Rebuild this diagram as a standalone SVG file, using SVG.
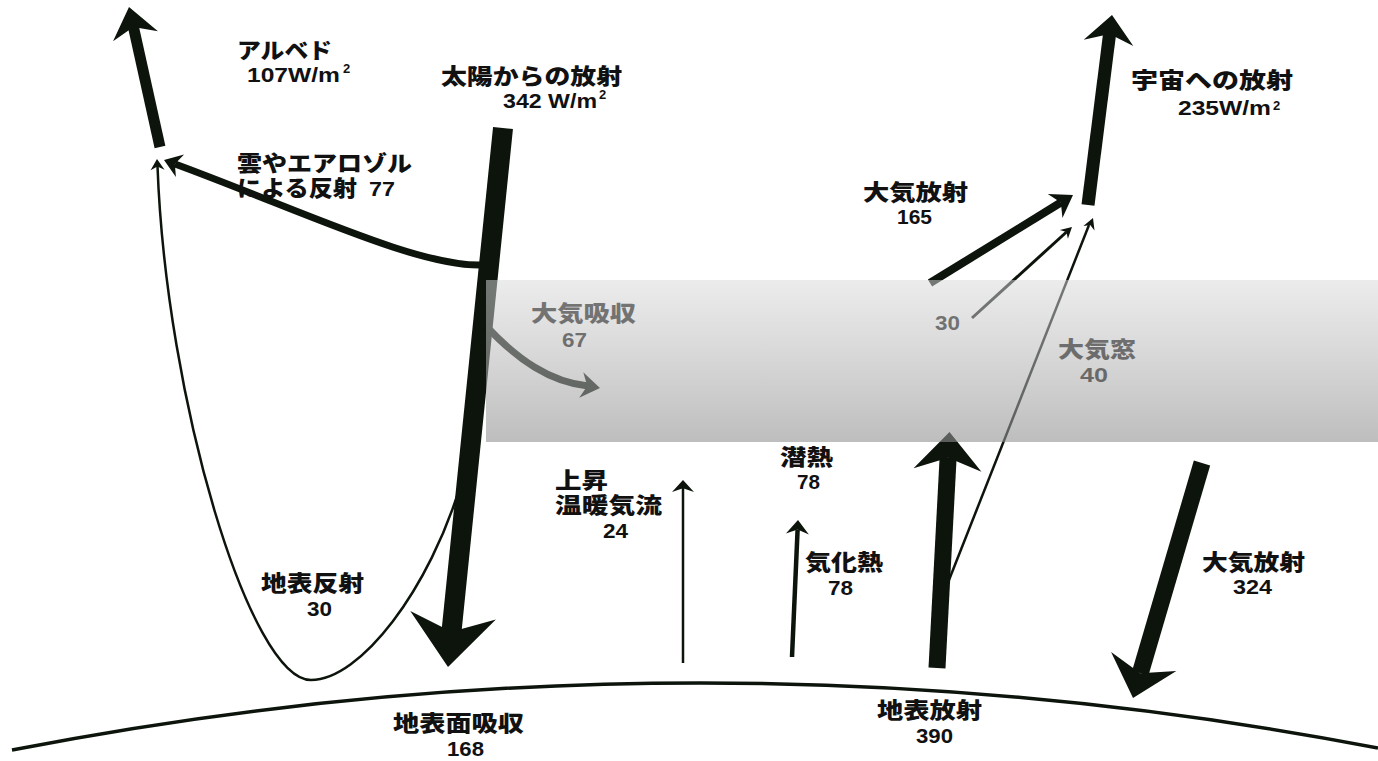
<svg xmlns="http://www.w3.org/2000/svg" width="1378" height="761" viewBox="0 0 1378 761">
<defs>
<style>
text{font-family:"Liberation Sans","Noto Sans CJK JP",sans-serif;font-weight:bold;fill:#111}
.j{font-size:22px;font-weight:900}
.n{font-size:21px}
.s{font-size:13px}
.sh{fill:none;stroke:#0c140c;stroke-linecap:butt}
.hd{fill:#0c140c}
</style>
<path id="hd" d="M0,0 L-1,-1 L-0.68,0 L-1,1 Z"/>
<linearGradient id="band" x1="0" y1="0" x2="0" y2="1">
<stop offset="0" stop-color="#d9d9d9" stop-opacity="0.51"/>
<stop offset="1" stop-color="#909090" stop-opacity="0.59"/>
</linearGradient>
</defs>
<rect width="1378" height="761" fill="#fff"/>

<g id="connectors">
<!-- sun incoming -->
<line class="sh" x1="503" y1="128" x2="451.4" y2="632.5" stroke-width="20"/>
<use href="#hd" class="hd" transform="translate(448,667) rotate(95.6) scale(52,43)"/>
<!-- albedo -->
<line class="sh" x1="160" y1="147" x2="133.4" y2="26.9" stroke-width="11"/>
<use href="#hd" class="hd" transform="translate(129,7) rotate(-102.5) scale(30,23)"/>
<!-- cloud reflection 77 -->
<path class="sh" d="M484,265 C420,268 300,210 175,164" stroke-width="7"/>
<use href="#hd" class="hd" transform="translate(164,160) rotate(-160.1) scale(17,12)"/>
<!-- surface reflection 30 -->
<path class="sh" d="M462,480 C430,590 360,680 311,680 C250,680 166,400 157.5,166" stroke-width="2.5"/>
<use href="#hd" class="hd" transform="translate(157,159) rotate(-92.9) scale(11,7)"/>
<!-- atmospheric absorption 67 -->
<path class="sh" d="M486,326 C518,360 550,382 588,386" stroke-width="7"/>
<use href="#hd" class="hd" transform="translate(600,388) rotate(9) scale(19,13)"/>
<!-- outgoing to space 235 -->
<line class="sh" x1="1088" y1="205" x2="1109.6" y2="33.8" stroke-width="13"/>
<use href="#hd" class="hd" transform="translate(1112,15) rotate(-82.8) scale(28,25)"/>
<!-- atmospheric emission 165 -->
<line class="sh" x1="930" y1="283" x2="1060.8" y2="202.5" stroke-width="8"/>
<use href="#hd" class="hd" transform="translate(1073,195) rotate(-31.6) scale(21,14)"/>
<!-- 30 -->
<line class="sh" x1="972" y1="318" x2="1066.5" y2="232" stroke-width="3"/>
<use href="#hd" class="hd" transform="translate(1072,227) rotate(-42.3) scale(11,6)"/>
<!-- atmospheric window 40 -->
<line class="sh" x1="949" y1="580" x2="1089" y2="225" stroke-width="2.5"/>
<use href="#hd" class="hd" transform="translate(1093,218) rotate(-68.3) scale(11,6)"/>
<!-- surface radiation 390 -->
<line class="sh" x1="937" y1="668" x2="948.1" y2="457.8" stroke-width="17"/>
<use href="#hd" class="hd" transform="translate(949.5,432) rotate(-86.97) scale(38,34)"/>
<!-- back radiation 324 -->
<line class="sh" x1="1202" y1="463" x2="1140.3" y2="673.2" stroke-width="17"/>
<use href="#hd" class="hd" transform="translate(1133,698) rotate(106.36) scale(38,34)"/>
<!-- evaporation 78 -->
<line class="sh" x1="792" y1="657" x2="797.6" y2="529.5" stroke-width="4.5"/>
<use href="#hd" class="hd" transform="translate(798,520) rotate(-87.5) scale(14,11.5)"/>
<!-- thermals 24 -->
<line class="sh" x1="683" y1="663" x2="683" y2="488" stroke-width="2.5"/>
<use href="#hd" class="hd" transform="translate(683,480) rotate(-90) scale(12,11)"/>
</g>

<g id="earth-surface">
<path d="M12,750 Q695,617 1378,748" fill="none" stroke="#0c140c" stroke-width="3.5"/>
</g>

<g id="albedo">
<text class="j" x="237" y="58" textLength="95" lengthAdjust="spacingAndGlyphs">アルベド</text>
<text class="n" x="247" y="82" textLength="93" lengthAdjust="spacingAndGlyphs">107W/m</text>
<text class="s" x="343" y="73">2</text>
</g>
<g id="solar">
<text class="j" x="441" y="84" textLength="181" lengthAdjust="spacingAndGlyphs">太陽からの放射</text>
<text class="n" x="503" y="108" textLength="94" lengthAdjust="spacingAndGlyphs">342 W/m</text>
<text class="s" x="599" y="99">2</text>
</g>
<g id="cloud-reflection">
<text class="j" x="237" y="171" textLength="175" lengthAdjust="spacingAndGlyphs">雲やエアロゾル</text>
<text class="j" x="237" y="196" textLength="120" lengthAdjust="spacingAndGlyphs">による反射</text>
<text class="n" x="369" y="196" textLength="26" lengthAdjust="spacingAndGlyphs">77</text>
</g>
<g id="space">
<text class="j" x="1131" y="88" textLength="162" lengthAdjust="spacingAndGlyphs">宇宙への放射</text>
<text class="n" x="1178" y="115" textLength="93" lengthAdjust="spacingAndGlyphs">235W/m</text>
<text class="s" x="1273" y="110">2</text>
</g>
<g id="atm-emission-165">
<text class="j" x="863" y="200" textLength="105" lengthAdjust="spacingAndGlyphs">大気放射</text>
<text class="n" x="897" y="224" textLength="35" lengthAdjust="spacingAndGlyphs">165</text>
</g>
<g id="atm-absorption">
<text class="j" x="531" y="321" textLength="105" lengthAdjust="spacingAndGlyphs">大気吸収</text>
<text class="n" x="562" y="346.5" textLength="25" lengthAdjust="spacingAndGlyphs">67</text>
</g>
<g id="label-30">
<text class="n" x="935" y="330" textLength="25" lengthAdjust="spacingAndGlyphs">30</text>
</g>
<g id="atm-window">
<text class="j" x="1058" y="357" textLength="78" lengthAdjust="spacingAndGlyphs">大気窓</text>
<text class="n" x="1080" y="382" textLength="28" lengthAdjust="spacingAndGlyphs">40</text>
</g>
<g id="latent-heat">
<text class="j" x="780" y="465" textLength="53" lengthAdjust="spacingAndGlyphs">潜熱</text>
<text class="n" x="797" y="489" textLength="23" lengthAdjust="spacingAndGlyphs">78</text>
</g>
<g id="thermals">
<text class="j" x="555" y="488" textLength="53" lengthAdjust="spacingAndGlyphs">上昇</text>
<text class="j" x="555" y="513" textLength="107" lengthAdjust="spacingAndGlyphs">温暖気流</text>
<text class="n" x="603" y="538" textLength="25" lengthAdjust="spacingAndGlyphs">24</text>
</g>
<g id="evaporation">
<text class="j" x="805" y="570" textLength="78" lengthAdjust="spacingAndGlyphs">気化熱</text>
<text class="n" x="828" y="595" textLength="25" lengthAdjust="spacingAndGlyphs">78</text>
</g>
<g id="surface-reflection">
<text class="j" x="261" y="591" textLength="103" lengthAdjust="spacingAndGlyphs">地表反射</text>
<text class="n" x="307" y="616" textLength="25" lengthAdjust="spacingAndGlyphs">30</text>
</g>
<g id="surface-absorption">
<text class="j" x="393" y="731" textLength="131" lengthAdjust="spacingAndGlyphs">地表面吸収</text>
<text class="n" x="447" y="756" textLength="37" lengthAdjust="spacingAndGlyphs">168</text>
</g>
<g id="surface-radiation">
<text class="j" x="877" y="718" textLength="105" lengthAdjust="spacingAndGlyphs">地表放射</text>
<text class="n" x="916" y="743" textLength="37" lengthAdjust="spacingAndGlyphs">390</text>
</g>
<g id="back-radiation">
<text class="j" x="1202" y="570" textLength="103" lengthAdjust="spacingAndGlyphs">大気放射</text>
<text class="n" x="1233" y="594" textLength="39" lengthAdjust="spacingAndGlyphs">324</text>
</g>

<g id="atmosphere">
<rect x="486" y="280" width="892" height="162" fill="url(#band)"/>
</g>
</svg>
